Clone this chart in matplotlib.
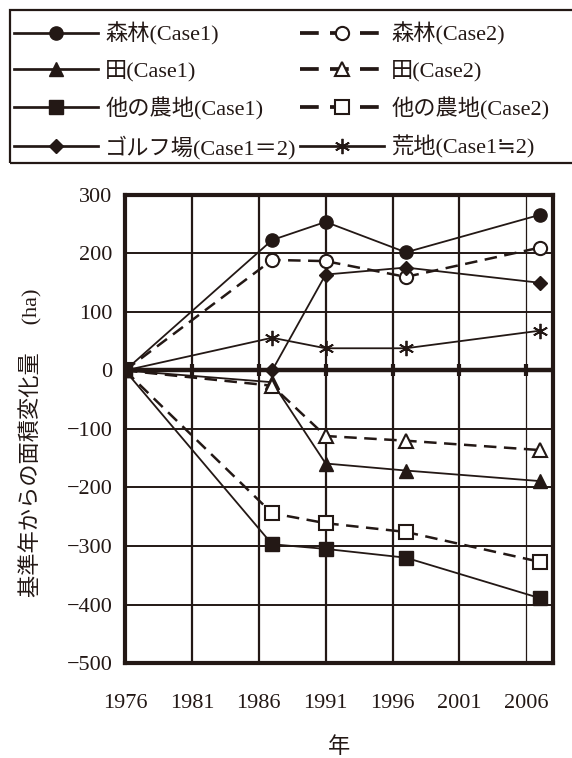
import matplotlib.pyplot as plt
from matplotlib.patches import Rectangle

# データ
years = [1976, 1987, 1991, 1997, 2007]
forest_c1 = [0, 223, 254, 202, 266]
forest_c2 = [0, 189, 187, 160, 210]
paddy_c1 = [0, -20, -159, -171, -189]
paddy_c2 = [0, -26, -112, -120, -136]
other_c1 = [0, -297, -305, -320, -389]
other_c2 = [0, -244, -261, -276, -327]
golf = [0, 0, 164, 176, 150]
waste = [0, 56, 38, 38, 68]

xticks = [1976, 1981, 1986, 1991, 1996, 2001, 2006]
yticks = [300, 200, 100, 0, -100, -200, -300, -400, -500]

labels = ['森林(Case1)', '田(Case1)', '他の農地(Case1)', 'ゴルフ場(Case1＝2)',
          '森林(Case2)', '田(Case2)', '他の農地(Case2)', '荒地(Case1≒2)']

fonts = ['Liberation Serif', 'Noto Sans CJK JP', 'DejaVu Sans']
plt.rcParams['font.family'] = fonts
plt.rcParams['font.size'] = 16

c = '#231815'
W, H = 572, 758
fig = plt.figure(figsize=(W / 100, H / 100), dpi=100)
ax = fig.add_axes([125 / W, 1 - 663 / H, (553 - 125) / W, (663 - 195) / H])

# グリッド
for x in xticks[1:]:
    ax.axvline(x, color=c, lw=1.6 if x != 2006 else 0.9, zorder=1)
for y in yticks:
    ax.axhline(y, color=c, lw=1.4, zorder=1)
ax.axhline(0, color=c, lw=3.2, zorder=2)
ax.plot(xticks[1:], [0] * (len(xticks) - 1), ls='none', marker='|',
        ms=9, mew=3, color=c, zorder=2)

dash = (0, (5, 3))
ms = 9.5
solid = dict(color=c, lw=1.3, ls='-', zorder=3)
dashed = dict(color=c, lw=1.8, ls=dash, zorder=3)

h1, = ax.plot(years, forest_c1, marker='o', ms=ms, mfc=c, mec=c, **solid)
h5, = ax.plot(years, forest_c2, marker='o', ms=ms, mfc='white', mec=c, mew=1.5, **dashed)
h2, = ax.plot(years, paddy_c1, marker='^', ms=ms, mfc=c, mec=c, **solid)
h6, = ax.plot(years, paddy_c2, marker='^', ms=ms, mfc='white', mec=c, mew=1.5, **dashed)
h4, = ax.plot(years, golf, marker='D', ms=7.5, mfc=c, mec=c, **solid)
h8, = ax.plot(years, waste, marker=(6, 2, 0), ms=11, mec=c, mew=1.3, **solid)
h7, = ax.plot(years, other_c2, marker='s', ms=ms, mfc='white', mec=c, mew=1.5, **dashed)
h3, = ax.plot(years, other_c1, marker='s', ms=ms, mfc=c, mec=c, **solid)

ax.set_xlim(1976, 2008)
ax.set_ylim(-500, 300)
ax.set_xticks(xticks)
ax.set_yticks(yticks)
ax.tick_params(axis='x', length=0, pad=22, colors=c, labelsize=16)
ax.tick_params(axis='y', length=0, pad=9, colors=c, labelsize=16)
for s in ax.spines.values():
    s.set_linewidth(3)
    s.set_color(c)
ax.set_xlabel('年', labelpad=18, color=c)
ax.set_ylabel('基準年からの面積変化量　 (ha)', color=c)
ax.yaxis.set_label_coords(-0.192, 0.47)

# 凡例
leg = fig.legend([h1, h2, h3, h4, h5, h6, h7, h8], labels, ncol=2,
                 loc='upper left', bbox_to_anchor=(14 / W, 1 - 22 / H),
                 frameon=False, handlelength=3.8, handletextpad=0.3,
                 columnspacing=0.15, labelspacing=0.68, borderpad=0,
                 borderaxespad=0, fontsize=16)
for t in leg.get_texts():
    t.set_color(c)
for lh in leg.legend_handles:
    lh.set_linewidth(lh.get_linewidth() * 1.5)
fig.patches.append(Rectangle((10 / W, 1 - 163 / H), 600 / W, 153 / H,
                             transform=fig.transFigure, fill=False,
                             edgecolor=c, lw=1.6))

fig.savefig('out.png', dpi=100)
